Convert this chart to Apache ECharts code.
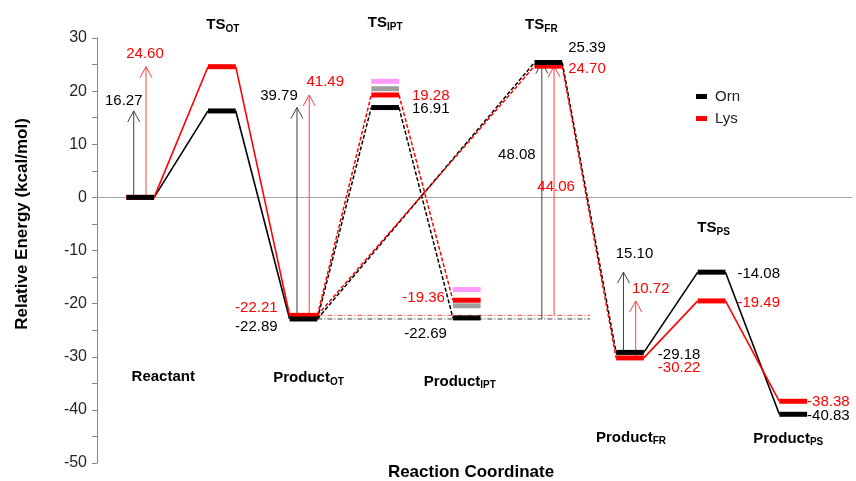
<!DOCTYPE html>
<html>
<head>
<meta charset="utf-8">
<script src="https://cdn.jsdelivr.net/npm/echarts@6/dist/echarts.min.js"></script>
<style>
  html, body { margin: 0; background: #fff; }
  #chart { width: 856px; height: 481px; }
</style>
</head>
<body>
<div id="chart"></div>
<script>
// ---- data ----
const stages = ['Reactant', 'TS_OT', 'Product_OT', 'TS_IPT', 'Product_IPT', 'TS_FR', 'Product_FR', 'TS_PS', 'Product_PS'];
const orn = [0, 16.27, -22.89, 16.91, -22.69, 25.39, -29.18, -14.08, -40.83];
const lys = [0, 24.60, -22.21, 19.28, -19.36, 24.70, -30.22, -19.49, -38.38];
// extra unlabelled levels at the IPT step: [stage, energy]
const pinkLevels = [[3, 21.85], [4, -17.35]];
const grayLevels = [[3, 20.45], [4, -20.4]];
// connections between stages
const solidLinks = [[0, 1], [1, 2], [6, 7], [7, 8]];
const dashedLinks = [[2, 3], [2, 5], [3, 4], [5, 6]];
// barrier arrows: [from stage, to stage], drawn at arrowAt stage
const arrowLinks = [[0, 1], [2, 3], [2, 5], [6, 7]];
const arrowAt = [0, 2, 5, 6];
const ornBarrier = ['16.27', '39.79', '48.08', '15.10'];
const lysBarrier = ['24.60', '41.49', '44.06', '10.72'];
const yTicks = { min: -50, max: 30, step: 10 };

// ---- layout ----
const FONT = '"Liberation Sans", Arial, sans-serif';
const BAR_L = 0.36, BAR_R = 0.70, BAR_H = 5;
const REF_END = 6.04;
const RED = '#ff0000';
// arrow label offsets (px) from arrow tip
const ornArrowOff = [[-10, -10], [-18, -12], [-25, 92], [11, -18]];
const lysArrowOff = [[-1, -13], [16, -13], [2, 121], [15, -12]];
// level labels: stage -> [side, dx, dy]
const ornLabelPos = {2: ['L', -12, 8], 3: ['R', 13, 1], 4: ['L', -6, 16], 5: ['R', 6, -15], 6: ['R', 14, 2], 7: ['R', 12, 2], 8: ['R', 0, 2]};
const lysLabelPos = {2: ['L', -12, -8], 3: ['R', 13, 1], 4: ['L', -8, -2], 5: ['R', 6, 3], 6: ['R', 14, 10], 7: ['R', 12, 2], 8: ['R', 0, 1]};
// stage names: [dx px from bar centre, y in energy units]
const stageNamePos = [[23, -33.8], [1, 32.45], [5, -34.0], [0, 32.8], [-7, -34.7], [-7, 32.45], [1, -45.2], [2, -5.76], [-5, -45.4]];

function levelSeries(name, data, color) {
  return {
    name, type: 'custom', silent: true, z: 5, animation: false,
    itemStyle: { color },
    data, encode: { x: 0, y: 1 },
    renderItem: (params, api) => {
      const i = api.value(0), v = api.value(1);
      const a = api.coord([i + BAR_L, v]), b = api.coord([i + BAR_R, v]);
      return { type: 'rect', shape: { x: a[0], y: a[1] - BAR_H / 2, width: b[0] - a[0], height: BAR_H }, style: { fill: color } };
    }
  };
}

function linkLine(a, b, vals, color, dashed) {
  return {
    type: 'line', symbol: 'none', silent: true, z: 2, animation: false,
    data: [[a + BAR_R, vals[a]], [b + BAR_L, vals[b]]],
    lineStyle: { color, width: dashed ? 1.5 : 1.6, type: dashed ? [4, 2] : 'solid' }
  };
}

function refLine(vals, color) {
  return {
    type: 'line', symbol: 'none', silent: true, z: 1, animation: false,
    data: [[2 + BAR_R, vals[2]], [REF_END, vals[2]]],
    lineStyle: { color, width: 1, type: [5, 2, 1, 2] }
  };
}

function arrowSeries(vals, texts, offs, xOff, color, textColor) {
  return {
    type: 'custom', silent: true, z: 4, animation: false,
    data: arrowLinks.map(([a, b], k) => [arrowAt[k] + xOff, vals[a], vals[b], k]),
    encode: { x: 0, y: [1, 2] },
    renderItem: (params, api) => {
      const x = api.value(0), k = api.value(3);
      const p0 = api.coord([x, api.value(1)]), p1 = api.coord([x, api.value(2)]);
      const off = offs[k];
      return {
        type: 'group', children: [
          { type: 'line', shape: { x1: p0[0], y1: p0[1], x2: p1[0], y2: p1[1] }, style: { stroke: color, lineWidth: 1 } },
          { type: 'polyline', shape: { points: [[p1[0] - 6, p1[1] + 11], [p1[0], p1[1]], [p1[0] + 6, p1[1] + 11]] }, style: { stroke: color, fill: 'none', lineWidth: 1 } },
          { type: 'text', x: p1[0] + off[0], y: p1[1] + off[1], style: { text: texts[k], fill: textColor, font: '15px ' + FONT, align: 'center', verticalAlign: 'middle' } }
        ]
      };
    }
  };
}

function levelLabelSeries(vals, pos, color) {
  const idx = Object.keys(pos).map(Number);
  return {
    type: 'custom', silent: true, z: 6, animation: false,
    data: idx.map(i => [i, vals[i]]),
    encode: { x: 0, y: 1 },
    renderItem: (params, api) => {
      const i = api.value(0), v = api.value(1);
      const [side, dx, dy] = pos[i];
      const p = api.coord([i + (side === 'L' ? BAR_L : BAR_R), v]);
      return { type: 'text', x: p[0] + dx, y: p[1] + dy, style: { text: v.toFixed(2), fill: color, font: '15px ' + FONT, align: side === 'L' ? 'right' : 'left', verticalAlign: 'middle' } };
    }
  };
}

const stageNameSeries = {
  type: 'custom', silent: true, z: 6, animation: false,
  data: stages.map((s, i) => [i, stageNamePos[i][1]]),
  encode: { x: 0, y: 1 },
  renderItem: (params, api) => {
    const i = api.value(0);
    const p = api.coord([i + (BAR_L + BAR_R) / 2, api.value(1)]);
    const parts = stages[i].split('_');
    const txt = '{m|' + parts[0] + '}' + (parts[1] ? '{s|' + parts[1] + '}' : '');
    return {
      type: 'text', x: p[0] + stageNamePos[i][0], y: p[1],
      style: {
        text: txt, align: 'center', verticalAlign: 'middle',
        rich: {
          m: { fontSize: 15, fontWeight: 'bold', fontFamily: FONT, fill: '#000', lineHeight: 18 },
          s: { fontSize: 10, fontWeight: 'bold', fontFamily: FONT, fill: '#000', lineHeight: 18, verticalAlign: 'bottom' }
        }
      }
    };
  }
};

const series = [];
series.push(refLine(lys, '#ff4d4d'), refLine(orn, '#404040'));
[[orn, '#000'], [lys, RED]].forEach(([vals, color]) => {
  solidLinks.forEach(([a, b]) => series.push(linkLine(a, b, vals, color, false)));
  dashedLinks.forEach(([a, b]) => series.push(linkLine(a, b, vals, color, true)));
});
series.push(levelSeries('pink', pinkLevels, '#ff99ff'));
series.push(levelSeries('gray', grayLevels, '#a0a0a0'));
series.push(levelSeries('Lys', lys.map((v, i) => [i, v]), RED));
series.push(levelSeries('Orn', orn.map((v, i) => [i, v]), '#000'));
series.push(arrowSeries(orn, ornBarrier, ornArrowOff, 0.45, '#404040', '#000'));
series.push(arrowSeries(lys, lysBarrier, lysArrowOff, 0.6, '#ff4040', RED));
series.push(levelLabelSeries(orn, ornLabelPos, '#000'));
series.push(levelLabelSeries(lys, lysLabelPos, RED));
series.push(stageNameSeries);

const chart = echarts.init(document.getElementById('chart'));
chart.setOption({
  animation: false,
  backgroundColor: '#fff',
  grid: { left: 97, right: 4, top: 38, bottom: 18 },
  legend: {
    data: ['Orn', 'Lys'], orient: 'vertical', left: 691, top: 84,
    icon: 'rect', itemWidth: 11, itemHeight: 5, itemGap: 7,
    textStyle: { fontSize: 15, fontFamily: FONT, color: '#222', padding: [0, 0, 0, 3] }
  },
  xAxis: {
    type: 'value', min: 0, max: 9.25,
    axisLine: { show: true, onZero: true, lineStyle: { color: '#a6a6a6', width: 1 } },
    axisTick: { show: false }, axisLabel: { show: false }, splitLine: { show: false }
  },
  yAxis: {
    type: 'value', min: yTicks.min, max: yTicks.max, interval: yTicks.step,
    axisLine: { show: true, lineStyle: { color: '#868686' } },
    axisTick: { show: true, length: 5, lineStyle: { color: '#868686' } },
    minorTick: { show: true, splitNumber: 2, length: 5, lineStyle: { color: '#868686' } },
    axisLabel: { fontSize: 16, fontFamily: FONT, color: '#262626', margin: 10 },
    splitLine: { show: false }
  },
  graphic: [
    { type: 'text', x: 22, y: 224, rotation: Math.PI / 2,
      style: { text: 'Relative Energy (kcal/mol)', font: 'bold 17px ' + FONT, fill: '#000', align: 'center', verticalAlign: 'middle' } },
    { type: 'text', x: 471, y: 472,
      style: { text: 'Reaction Coordinate', font: 'bold 17px ' + FONT, fill: '#000', align: 'center', verticalAlign: 'middle' } }
  ],
  series
});
</script>
</body>
</html>
